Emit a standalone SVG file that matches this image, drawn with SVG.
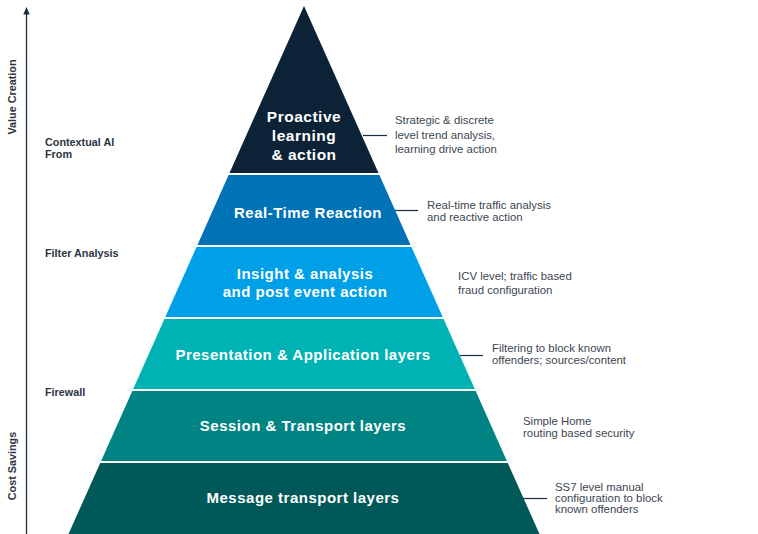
<svg xmlns="http://www.w3.org/2000/svg" width="758" height="534" viewBox="0 0 758 534">
<defs>
<style>
.lt{font-family:"Liberation Sans",Arial,sans-serif;font-weight:bold;fill:#fff;text-anchor:middle;letter-spacing:0.5px}
.ann{font-family:"Liberation Sans",Arial,sans-serif;font-size:11.4px;fill:#3b4652}
.lab{font-family:"Liberation Sans",Arial,sans-serif;font-size:10.8px;font-weight:bold;fill:#2b3542}
.conn{stroke:#1b2d3f;stroke-width:1.2;fill:none}
</style>
</defs>
<rect width="758" height="534" fill="#fff"/>

<g id="axis">
<line x1="26.5" y1="534" x2="26.5" y2="12" stroke="#1b2d3f" stroke-width="1.3"/>
<polygon points="26.5,7 23.3,14.5 29.7,14.5" fill="#1b2d3f"/>
<text class="lab" transform="translate(15.5,97) rotate(-90)" text-anchor="middle">Value Creation</text>
<text class="lab" transform="translate(15.5,466) rotate(-90)" text-anchor="middle">Cost Savings</text>
</g>

<g id="left-labels">
<text class="lab" x="45" y="146">Contextual AI</text>
<text class="lab" x="45" y="158">From</text>
<text class="lab" x="45" y="257">Filter Analysis</text>
<text class="lab" x="45" y="396">Firewall</text>
</g>

<g id="layer1">
<polygon points="304,6 378.5,173 229.5,173" fill="#0c2337"/>
<text class="lt" x="304" y="122" font-size="15.5">Proactive</text>
<text class="lt" x="304" y="141" font-size="15.5">learning</text>
<text class="lt" x="304" y="160" font-size="15.5">&amp; action</text>
</g>
<g id="layer2">
<polygon points="228.6,175 379.4,175 410.6,245 197.4,245" fill="#0072b6"/>
<text class="lt" x="308" y="218" font-size="15">Real-Time Reaction</text>
</g>
<g id="layer3">
<polygon points="196.5,247 411.5,247 442.7,317 165.3,317" fill="#00a0e8"/>
<text class="lt" x="305" y="279" font-size="15">Insight &amp; analysis</text>
<text class="lt" x="305" y="297" font-size="15">and post event action</text>
</g>
<g id="layer4">
<polygon points="164.4,319 443.6,319 474.8,389 133.2,389" fill="#00b2b3"/>
<text class="lt" x="303" y="360" font-size="15">Presentation &amp; Application layers</text>
</g>
<g id="layer5">
<polygon points="132.3,391 475.7,391 506.9,461 101.1,461" fill="#008483"/>
<text class="lt" x="303" y="431" font-size="15">Session &amp; Transport layers</text>
</g>
<g id="layer6">
<polygon points="100.2,463 507.8,463 539.5,534 68.5,534" fill="#005958"/>
<text class="lt" x="303" y="503" font-size="15">Message transport layers</text>
</g>

<g id="connectors">
<line class="conn" x1="363" y1="135.5" x2="387" y2="135.5"/>
<line class="conn" x1="395" y1="210.5" x2="418" y2="210.5"/>
<line class="conn" x1="460" y1="355.5" x2="483" y2="355.5"/>
<line class="conn" x1="523" y1="498.5" x2="547" y2="498.5"/>
</g>

<g id="annotations">
<text class="ann" x="395" y="124">Strategic &amp; discrete</text>
<text class="ann" x="395" y="139">level trend analysis,</text>
<text class="ann" x="395" y="153">learning drive action</text>
<text class="ann" x="427" y="209">Real-time traffic analysis</text>
<text class="ann" x="427" y="221">and reactive action</text>
<text class="ann" x="458" y="280">ICV level; traffic based</text>
<text class="ann" x="458" y="294">fraud configuration</text>
<text class="ann" x="492" y="352">Filtering to block known</text>
<text class="ann" x="492" y="364">offenders; sources/content</text>
<text class="ann" x="523" y="425">Simple Home</text>
<text class="ann" x="523" y="437">routing based security</text>
<text class="ann" x="555" y="491">SS7 level manual</text>
<text class="ann" x="555" y="502">configuration to block</text>
<text class="ann" x="555" y="513">known offenders</text>
</g>
</svg>
